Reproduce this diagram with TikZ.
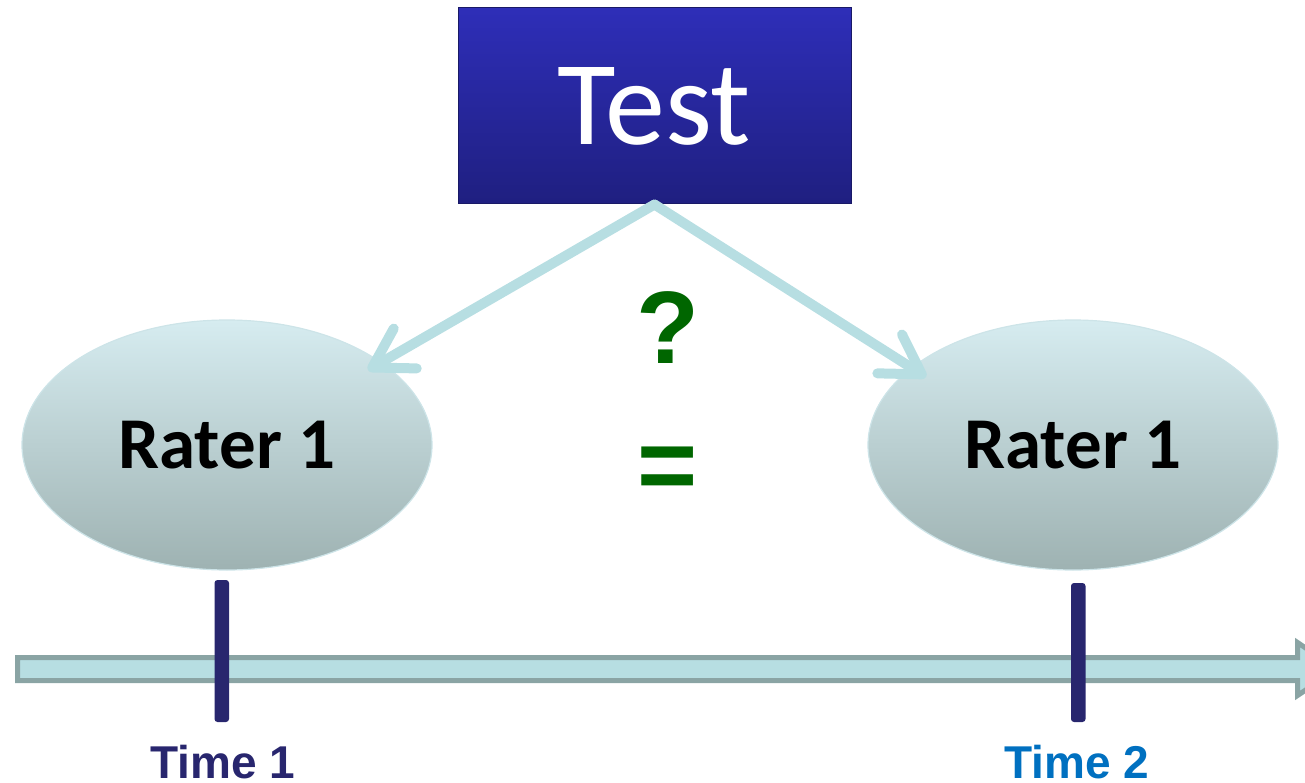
\documentclass[tikz,border=0pt]{standalone}
\usepackage{fontspec}
\setmainfont{Carlito}
\newfontfamily\arialf{Liberation Sans}
\usetikzlibrary{arrows.meta,shapes.geometric}
\definecolor{arrowc}{RGB}{183,222,226}
\definecolor{boxtop}{RGB}{46,46,184}
\definecolor{boxbot}{RGB}{31,31,128}
\definecolor{qgreen}{RGB}{0,102,0}
\definecolor{navy}{RGB}{40,38,110}
\definecolor{timetwo}{RGB}{0,112,192}
\definecolor{barfill}{RGB}{183,222,226}
\definecolor{barline}{RGB}{138,164,164}
\definecolor{elltop}{RGB}{214,236,240}
\definecolor{ellbot}{RGB}{158,178,178}
\definecolor{ellline}{RGB}{205,228,232}
\tikzset{
  testbox/.style={rectangle, minimum width=393pt, minimum height=196pt, inner sep=0pt,
    top color=boxtop, bottom color=boxbot, draw=boxbot!80!black, line width=1pt,
    text=white, font=\fontsize{120}{120}\selectfont},
  rater/.style={ellipse, minimum width=410pt, minimum height=250pt, inner sep=0pt,
    top color=elltop, bottom color=ellbot, draw=ellline, line width=1.2pt,
    font=\bfseries\fontsize{73}{73}\selectfont},
  link/.style={draw=arrowc, line width=10pt, line cap=round,
    -{Straight Barb[length=38pt,width=46pt,round]}},
  tickmark/.style={fill=navy, rounded corners=3pt},
  timelabel/.style={anchor=base, font=\arialf\bfseries\fontsize{46}{46}\selectfont},
  symb/.style={anchor=base, text=qgreen, font=\arialf\bfseries\fontsize{103}{103}\selectfont}
}
\begin{document}
\begin{tikzpicture}[x=1pt,y=-1pt]
\useasboundingbox (0,0) rectangle (1305,783);
\clip (0,0) rectangle (1305,783);
% timeline arrow
\draw[fill=barfill, draw=barline, line width=5pt, line join=miter]
  (17.5,657.5) -- (1297.5,657.5) -- (1297.5,642.5) -- (1337,669) -- (1297.5,695.5)
  -- (1297.5,680.5) -- (17.5,680.5) -- cycle;
% ticks
\fill[tickmark] (214.5,580) rectangle (229,722);
\fill[tickmark] (1071,583) rectangle (1085.5,722);
% nodes
\node[testbox] (test) at (654.5,106) {Test};
\node[rater] (r1) at (227,445) {Rater 1};
\node[rater] (r2) at (1073,445) {Rater 1};
\coordinate (t1) at (368,370);
\coordinate (t2) at (926,377);
\draw[link] (test.south) -- (t1);
\draw[link] (test.south) -- (t2);
\node[symb] (q) at (668,363) {?};
\node[symb] (eq) at (668,500) {=};
\node[timelabel, text=navy] (time1) at (222.5,778) {Time 1};
\node[timelabel, text=timetwo] (time2) at (1077,778) {Time 2};
\end{tikzpicture}
\end{document}
